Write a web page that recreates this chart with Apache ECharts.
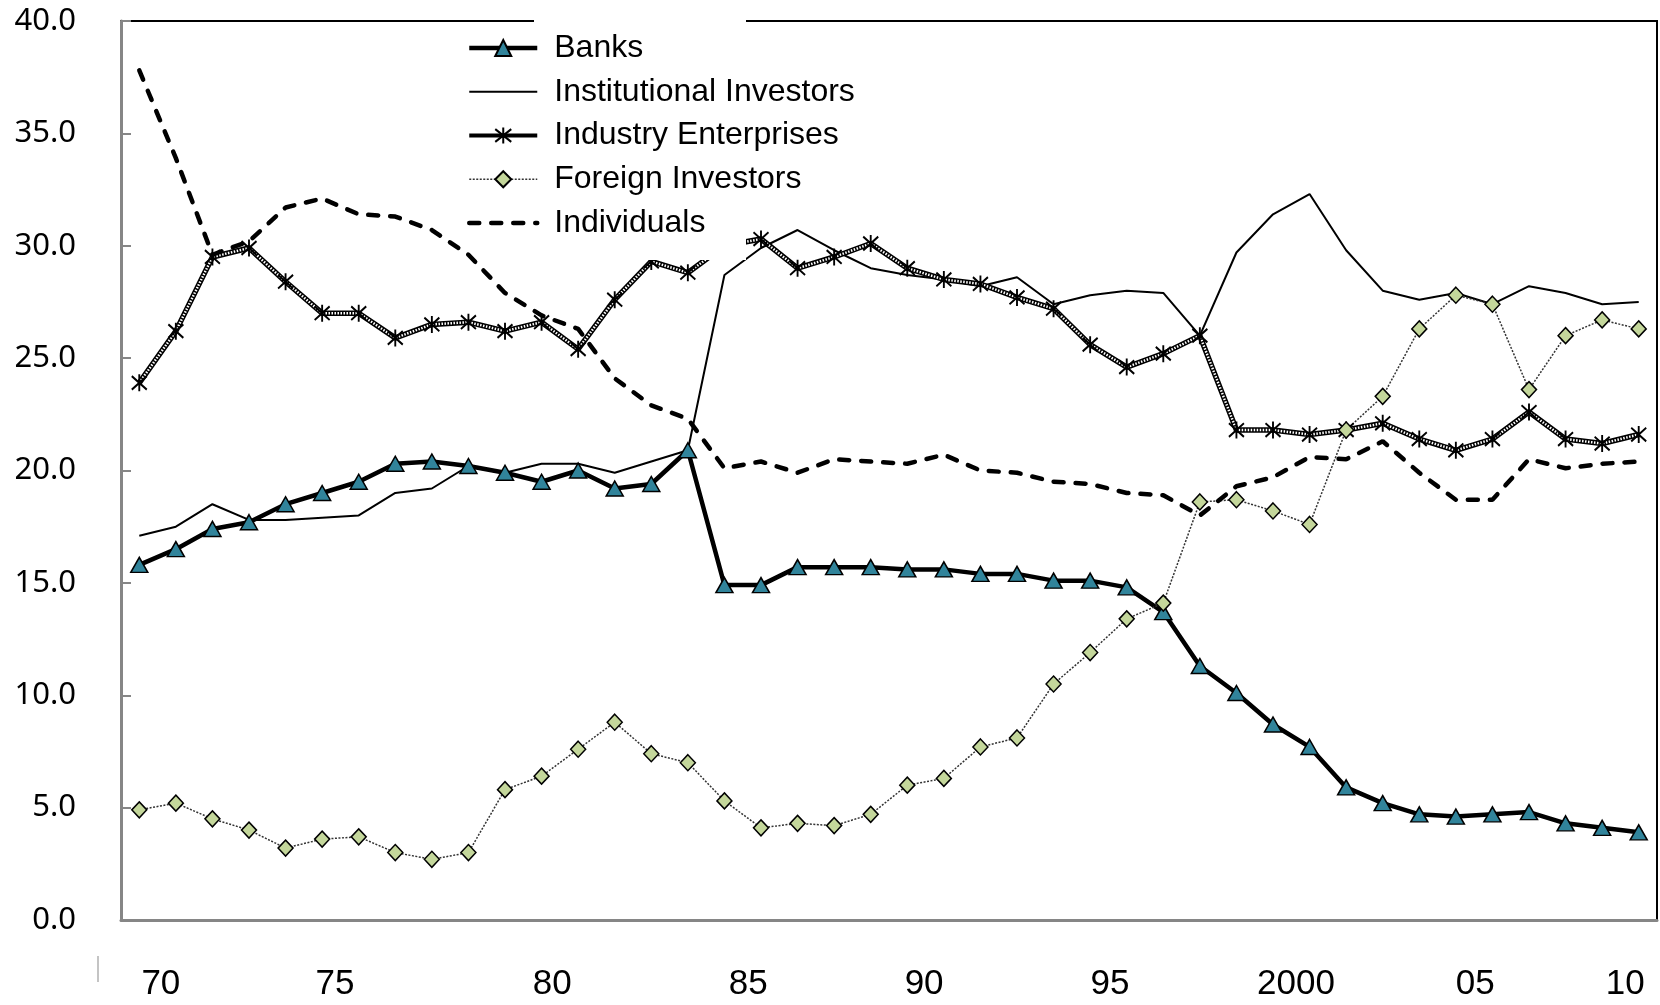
<!DOCTYPE html>
<html>
<head>
<meta charset="utf-8">
<title>Shareholders</title>
<script src="https://cdn.jsdelivr.net/npm/echarts@6/dist/echarts.min.js"></script>
<style>
  html, body { margin: 0; padding: 0; background: #fff; }
  #main { width: 1660px; height: 1005px; }
</style>
</head>
<body>
<div id="main"></div>
<script>
// categories (one point per year)
var years = ['1969', '1970', '1971', '1972', '1973', '1974', '1975', '1976', '1977', '1978',
  '1979', '1980', '1981', '1982', '1983', '1984', '1985', '1986', '1987', '1988',
  '1989', '1990', '1991', '1992', '1993', '1994', '1995', '1996', '1997', '1998',
  '1999', '2000', '2001', '2002', '2003', '2004', '2005', '2006', '2007', '2008',
  '2009', '2010']
// year labels, placed (in category widths from the left edge) as in the original
var tickPos = [1.09, 5.85, 11.79, 17.15, 21.96, 27.04, 32.13, 37.03, 41.13]
var tickText = ['70', '75', '80', '85', '90', '95', '2000', '05', '10']

var banks = [15.8, 16.5, 17.4, 17.7, 18.5, 19.0, 19.5, 20.3, 20.4, 20.2,
  19.9, 19.5, 20.0, 19.2, 19.4, 20.9, 14.9, 14.9, 15.7, 15.7,
  15.7, 15.6, 15.6, 15.4, 15.4, 15.1, 15.1, 14.8, 13.7, 11.3,
  10.1, 8.7, 7.7, 5.9, 5.2, 4.7, 4.6, 4.7, 4.8, 4.3,
  4.1, 3.9]
var institutional = [17.1, 17.5, 18.5, 17.8, 17.8, 17.9, 18.0, 19.0, 19.2, 20.2,
  19.9, 20.3, 20.3, 19.9, 20.4, 20.9, 28.7, 29.9, 30.7, 29.8,
  29.0, 28.7, 28.5, 28.2, 28.6, 27.4, 27.8, 28.0, 27.9, 26.0,
  29.7, 31.4, 32.3, 29.8, 28.0, 27.6, 27.9, 27.4, 28.2, 27.9,
  27.4, 27.5]
var industry = [23.9, 26.2, 29.5, 29.9, 28.4, 27.0, 27.0, 25.9, 26.5, 26.6,
  26.2, 26.6, 25.4, 27.6, 29.3, 28.8, 30.0, 30.3, 29.0, 29.5,
  30.1, 29.0, 28.5, 28.3, 27.7, 27.2, 25.6, 24.6, 25.2, 26.0,
  21.8, 21.8, 21.6, 21.8, 22.1, 21.4, 20.9, 21.4, 22.6, 21.4,
  21.2, 21.6]
var foreign = [4.9, 5.2, 4.5, 4.0, 3.2, 3.6, 3.7, 3.0, 2.7, 3.0,
  5.8, 6.4, 7.6, 8.8, 7.4, 7.0, 5.3, 4.1, 4.3, 4.2,
  4.7, 6.0, 6.3, 7.7, 8.1, 10.5, 11.9, 13.4, 14.1, 18.6,
  18.7, 18.2, 17.6, 21.8, 23.3, 26.3, 27.8, 27.4, 23.6, 26.0,
  26.7, 26.3]
var individuals = [37.8, 33.9, 29.6, 30.2, 31.7, 32.1, 31.4, 31.3, 30.7, 29.6,
  27.9, 26.9, 26.3, 24.1, 22.9, 22.3, 20.1, 20.4, 19.9, 20.5,
  20.4, 20.3, 20.7, 20.0, 19.9, 19.5, 19.4, 19.0, 18.9, 18.0,
  19.3, 19.7, 20.6, 20.5, 21.3, 19.9, 18.7, 18.7, 20.5, 20.1,
  20.3, 20.4]

var names = ['Banks', 'Institutional Investors', 'Industry Enterprises', 'Foreign Investors', 'Individuals']

var axisGrey = '#868686'
var asterisk = 'path://M0,-10L0,10M-8,-8L8,8M-8,8L8,-8'

var myChart = echarts.init(document.getElementById('main'))

var option = {
  animation: false,
  backgroundColor: '#fff',
  grid: {
    left: 121, right: 3, top: 21, bottom: 85,
    show: true, borderColor: '#000', borderWidth: 2
  },
  xAxis: [
    {
      type: 'category',
      data: years,
      boundaryGap: true,
      axisLine: { lineStyle: { color: axisGrey, width: 3 } },
      axisTick: { inside: true, length: 10, interval: 0, lineStyle: { color: axisGrey, width: 2 } },
      axisLabel: { show: false },
      splitLine: { show: false }
    },
    {
      // same width as the categories, only carries the year labels
      type: 'value',
      min: 0, max: years.length,
      position: 'bottom',
      axisLine: { show: false },
      axisTick: { show: false },
      splitLine: { show: false },
      axisLabel: {
        customValues: tickPos,
        showMinLabel: true, showMaxLabel: true,
        margin: 47,
        fontSize: 35,
        fontFamily: 'Liberation Sans',
        color: '#000',
        formatter: function (v) {
          var i = tickPos.indexOf(v)
          return i < 0 ? '' : tickText[i]
        }
      }
    }
  ],
  yAxis: {
    type: 'value',
    min: 0, max: 40, interval: 5,
    axisLine: { show: true, lineStyle: { color: axisGrey, width: 3 } },
    axisTick: { show: true, inside: true, length: 10, lineStyle: { color: axisGrey, width: 2 } },
    splitLine: { show: false },
    axisLabel: {
      margin: 45,
      fontSize: 31,
      fontFamily: 'Noto Sans',
      color: '#000',
      formatter: function (v) { return v.toFixed(1) }
    }
  },
  legend: {
    data: [
      { name: names[0], lineStyle: { width: 4.5 } },
      { name: names[1], lineStyle: { width: 2 }, itemStyle: { opacity: 0 } },
      { name: names[2], lineStyle: { width: 4 } },
      { name: names[3], lineStyle: { width: 1.5 } },
      { name: names[4], lineStyle: { width: 4.5 }, itemStyle: { opacity: 0 } }
    ],
    orient: 'vertical',
    left: 467, top: 31,
    padding: 0,
    itemWidth: 68, itemHeight: 20, itemGap: 9.75,
    selectedMode: false,
    z: 5,
    textStyle: {
      fontFamily: 'Liberation Sans', fontSize: 32, color: '#000',
      lineHeight: 34, padding: [0, 0, 0, 12]
    }
  },
  graphic: [
    // white legend box that hides the lines behind it
    { type: 'rect', z: 3.5, shape: { x: 534, y: 12, width: 212, height: 248 }, style: { fill: '#fff' } },
    { type: 'line', z: 3.5, shape: { x1: 98, y1: 956, x2: 98, y2: 982 }, style: { stroke: '#b0b0b0', lineWidth: 1.5 } }
  ],
  series: [
    {
      name: names[1], type: 'line', data: institutional,
      symbol: 'none',
      lineStyle: { color: '#000', width: 2 },
      itemStyle: { color: '#000' }
    },
    {
      name: names[2], type: 'line', data: industry,
      symbol: asterisk, symbolSize: [15, 17],
      lineStyle: { color: '#000', width: 5.5 },
      itemStyle: { color: '#000', borderColor: '#000', borderWidth: 2 }
    },
    {
      // hatched look of the enterprises line
      name: 'pattern', type: 'line', data: industry,
      symbol: 'none', silent: true,
      lineStyle: { color: '#fff', width: 2.5, type: [1.5, 1.5] }
    },
    {
      name: names[0], type: 'line', data: banks,
      symbol: 'triangle', symbolSize: [17, 15],
      lineStyle: { color: '#000', width: 4.5 },
      itemStyle: { color: '#31849B', borderColor: '#000', borderWidth: 1.5 }
    },
    {
      name: names[3], type: 'line', data: foreign,
      symbol: 'diamond', symbolSize: [15, 16],
      lineStyle: { color: '#333', width: 1.5, type: [2, 1.5] },
      itemStyle: { color: '#C4D79B', borderColor: '#000', borderWidth: 1.5 }
    },
    {
      name: names[4], type: 'line', data: individuals,
      symbol: 'none',
      lineStyle: { color: '#000', width: 4.5, type: [10, 12], cap: 'round' },
      itemStyle: { color: '#000' }
    }
  ]
}

myChart.setOption(option)
</script>
</body>
</html>
